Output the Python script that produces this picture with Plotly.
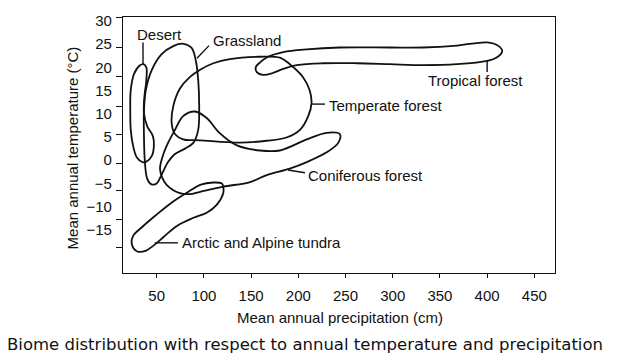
import plotly.graph_objects as go

# ---- data (precipitation cm, temperature °C) ----
desert_p = [36, 39, 39, 37, 36.5, 40, 46, 47, 45, 39, 35, 29, 25, 22.5, 22, 22.5, 26, 32, 36]
desert_t = [20.7, 20, 17.2, 13.8, 10.1, 7.3, 5.2, 3.1, 1.0, -0.3, -0.4, 0.6, 3.1, 6.6, 10.8, 15.1, 18.6, 20.4, 20.7]

grass_p = [78, 87, 91.5, 94, 95, 94, 89, 80, 69, 62, 55, 50, 44.5, 40, 37.5, 36.5, 36.5, 38.5, 44.5, 55, 67.5, 78]
grass_t = [25.1, 24.2, 21.4, 17.2, 11.6, 6.6, 3.8, 2.5, 1.3, -0.4, -3.2, -5.0, -5.2, -4.0, -0.4, 5.2, 10.8, 15.1, 19.3, 22.8, 24.6, 25.1]

temperate_p = [110, 127.5, 159, 180.5, 191, 205, 212, 214, 210.5, 202, 187.5, 166.5, 138, 96, 78, 69.5, 66, 67.5, 74.5, 85, 96, 110]
temperate_t = [20.9, 21.8, 22.3, 22.1, 20.7, 17.9, 15.1, 12.3, 9.5, 6.6, 4.9, 4.2, 3.8, 4.3, 4.5, 5.6, 7.7, 11.6, 15.4, 17.9, 19.5, 20.9]

tropical_p = [167, 184, 209, 244, 297, 332, 368, 400, 411.5, 416, 410.5, 400, 368, 332, 297, 262, 226, 198.5, 184, 173, 162.5, 156, 155, 159.5, 167]
tropical_t = [22.2, 23.3, 23.9, 24.3, 24.3, 24.3, 24.7, 25.4, 24.7, 23.5, 22.2, 21.4, 20.7, 20.5, 20.7, 20.9, 20.9, 20.5, 19.7, 18.8, 18.4, 19.0, 20.1, 21.1, 22.2]

conifer_p = [244, 230, 209, 180.5, 159.5, 135, 116.5, 103, 90.5, 78, 69.5, 60.5, 55.5, 53.5, 55.5, 60.5, 74.5, 85, 96, 120.5, 149, 166.5, 191, 209, 230, 242.5, 244]
conifer_t = [5.6, 5.9, 4.5, 2.1, 2.1, 3.2, 5.9, 9.1, 10.5, 9.5, 6.6, 3.1, 0.3, -1.8, -3.6, -5.3, -7.1, -7.3, -6.8, -5.7, -4.7, -3.2, -1.8, -0.4, 1.7, 3.8, 5.6]

tundra_p = [119, 110, 96, 83.5, 67.5, 50, 34, 25, 23.5, 29, 37.5, 46.5, 57, 71, 89, 103, 113.5, 120.5, 120.5, 119]
tundra_t = [-5.0, -4.8, -5.3, -6.8, -8.9, -11.7, -14.5, -16.3, -18.0, -19.6, -19.6, -18.4, -16.6, -14.2, -12.4, -11.3, -9.6, -7.1, -5.7, -5.0]

# leader lines: (p0, t0, p1, t1)
leaders = {
    "Desert": (35.5, 25.4, 35.5, 20.7),
    "Grassland": (92.7, 22.0, 105.4, 24.7),
    "Tropical forest": (400, 21.4, 400, 19.0),
    "Temperate forest": (214.5, 12.1, 228.3, 12.1),
    "Coniferous forest": (189, -2.1, 207, -2.7),
    "Arctic and Alpine tundra": (48, -17.8, 72.6, -17.8),
}
# label anchor (left edge, middle)
label_pos = {
    "Desert": (27, 27.1),
    "Grassland": (107.5, 25.8),
    "Tropical forest": (335, 17.1),
    "Temperate forest": (230.4, 11.8),
    "Coniferous forest": (208, -3.2),
    "Arctic and Alpine tundra": (74.7, -17.8),
}

x_ticks = [50, 100, 150, 200, 250, 300, 350, 400, 450]
y_ticks = [30, 25, 20, 15, 10, 5, 0, -5, -10, -15]
y_ticktext = ["30", "25", "20", "15", "10", "5", "0", "\u22125", "\u221210", "\u221215"]
y_marks = [30.66, 24.31, 17.97, 11.63, 5.50, -0.63, -6.55, -12.68, -18.82]

FONT = "Liberation Sans, Arial, Helvetica, sans-serif"
INK = "#111111"

fig = go.Figure()
for px_, tx_ in [(desert_p, desert_t), (grass_p, grass_t), (temperate_p, temperate_t),
                 (tropical_p, tropical_t), (conifer_p, conifer_t), (tundra_p, tundra_t)]:
    fig.add_trace(go.Scatter(x=px_, y=tx_, mode="lines",
                             line=dict(color=INK, width=1.8, shape="spline", smoothing=1.0),
                             hoverinfo="skip", showlegend=False))

for name, (p0, t0, p1, t1) in leaders.items():
    fig.add_trace(go.Scatter(x=[p0, p1], y=[t0, t1], mode="lines",
                             line=dict(color=INK, width=1.4), hoverinfo="skip", showlegend=False))

for name, (p, t) in label_pos.items():
    fig.add_annotation(x=p, y=t, text=name, showarrow=False, xanchor="left", yanchor="middle",
                       font=dict(family=FONT, size=15, color=INK))

fig.add_annotation(xref="paper", yref="paper", x=-0.116, y=0.49, text="Mean annual temperature (\u00b0C)",
                   textangle=-90, showarrow=False, xanchor="center", yanchor="middle",
                   font=dict(family=FONT, size=15, color=INK))
fig.add_annotation(xref="paper", yref="paper", x=0.502, y=-0.172, text="Mean annual precipitation (cm)",
                   showarrow=False, xanchor="center", yanchor="middle",
                   font=dict(family=FONT, size=15, color=INK))
fig.add_annotation(xref="paper", yref="paper", x=0.421, y=-0.28,
                   text="Biome distribution with respect to annual temperature and precipitation",
                   showarrow=False, xanchor="center", yanchor="middle",
                   font=dict(family="DejaVu Sans, sans-serif", size=16.5, color=INK))

fig.update_layout(
    width=625, height=353,
    margin=dict(l=115, r=78, t=4, b=88),
    paper_bgcolor="white", plot_bgcolor="white",
    xaxis=dict(range=[14.3, 471.9], tickvals=x_ticks, ticks="outside", ticklen=4, tickcolor=INK,
               showgrid=False, zeroline=False, showline=True, linecolor=INK, linewidth=1.3, mirror=True,
               tickfont=dict(family=FONT, size=15, color=INK), ticklabelstandoff=5),
    yaxis=dict(range=[-24.3, 30.87], tickvals=y_ticks, ticktext=y_ticktext, ticks="",
               showgrid=False, zeroline=False, showline=True, linecolor=INK, linewidth=1.3, mirror=True,
               tickfont=dict(family=FONT, size=15, color=INK), ticklabelstandoff=7,
               ticklabeloverflow="allow",
               minor=dict(tickmode="array", tickvals=y_marks, ticks="outside", ticklen=6,
                          tickcolor=INK, showgrid=False)),
)

fig.write_html("out.html")
